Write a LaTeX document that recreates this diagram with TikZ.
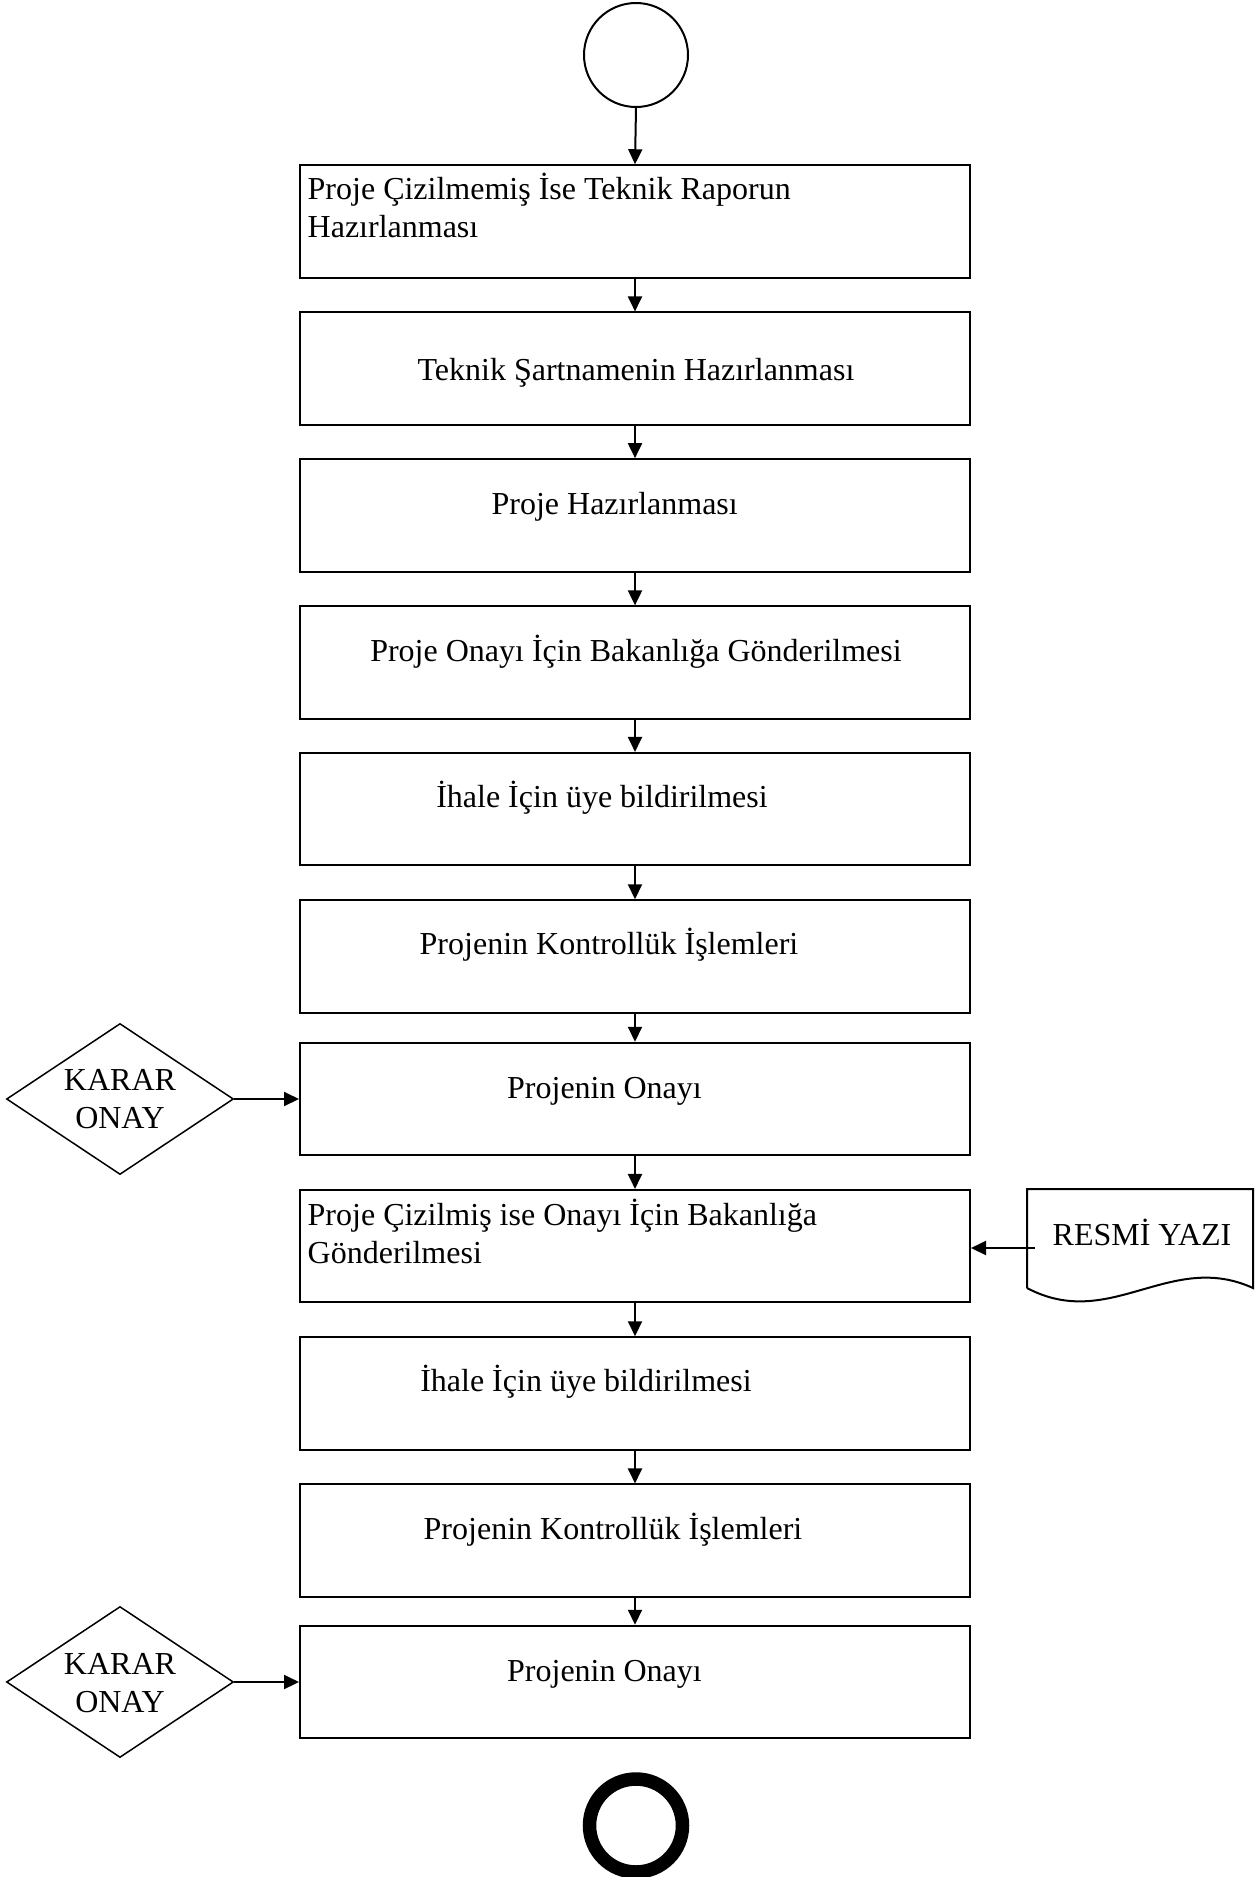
\documentclass[tikz,border=0pt]{standalone}
\usepackage{fontspec}
\setmainfont{Liberation Serif}
\usetikzlibrary{arrows.meta,shapes.geometric}
\begin{document}
\begin{tikzpicture}[x=1pt,y=-1pt,
  box/.style={draw,line width=2pt,minimum width=670pt,minimum height=112.5pt,inner sep=0pt},
  txt/.style={inner sep=0pt,font=\fontsize{32}{38}\selectfont},
  dec/.style={draw,shape=diamond,aspect=1.5,minimum width=227pt,minimum height=151pt,inner sep=0pt,line width=1.5pt},
  arr/.style={line width=2pt,-{Triangle[length=15pt,width=14pt]}}]
\useasboundingbox (0,0) rectangle (1257,1877);
% start / end
\node[draw,circle,line width=2pt,minimum size=104pt,inner sep=0pt] (start) at (636,55) {};
\node[draw,circle,line width=13.5pt,minimum size=93pt,inner sep=0pt] (end) at (636,1825.5) {};
% boxes
\node[box] (b1) at (635,221.5) {};
\node[box] (b2) at (635,368.7) {};
\node[box] (b3) at (635,515.4) {};
\node[box] (b4) at (635,662.6) {};
\node[box] (b5) at (635,809.2) {};
\node[box] (b6) at (635,956.5) {};
\node[box] (b7) at (635,1099) {};
\node[box] (b8) at (635,1246.2) {};
\node[box] (b9) at (635,1393.5) {};
\node[box] (b10) at (635,1540.7) {};
\node[box] (b11) at (635,1682) {};
% texts
\node[txt,anchor=base west] (t1a) at (307.5,199) {Proje Çizilmemiş İse Teknik Raporun};
\node[txt,anchor=base west] (t1b) at (307.5,237) {Hazırlanması};
\node[txt,anchor=base] (t2) at (636,380) {Teknik Şartnamenin Hazırlanması};
\node[txt,anchor=base] (t3) at (614.7,514) {Proje Hazırlanması};
\node[txt,anchor=base] (t4) at (636,661) {Proje Onayı İçin Bakanlığa Gönderilmesi};
\node[txt,anchor=base] (t5) at (602,807) {İhale İçin üye bildirilmesi};
\node[txt,anchor=base] (t6) at (609,954) {Projenin Kontrollük İşlemleri};
\node[txt,anchor=base] (t7) at (604.5,1098) {Projenin Onayı};
\node[txt,anchor=base west] (t8a) at (307.5,1225) {Proje Çizilmiş ise Onayı İçin Bakanlığa};
\node[txt,anchor=base west] (t8b) at (307.5,1263) {Gönderilmesi};
\node[txt,anchor=base] (t9) at (586,1391) {İhale İçin üye bildirilmesi};
\node[txt,anchor=base] (t10) at (613,1539) {Projenin Kontrollük İşlemleri};
\node[txt,anchor=base] (t11) at (604.5,1681) {Projenin Onayı};
% decisions
\node[dec] (d1) at (120,1099) {};
\node[txt,anchor=base] (d1a) at (120,1090.5) {KARAR};
\node[txt,anchor=base] (d1b) at (120,1128.5) {ONAY};
\node[dec] (d2) at (120,1682) {};
\node[txt,anchor=base] (d2a) at (120,1674.5) {KARAR};
\node[txt,anchor=base] (d2b) at (120,1712.5) {ONAY};
% document
\draw[line width=2pt] (1027,1288) -- (1027,1189) -- (1253,1189) -- (1253,1288)
  .. controls (1170,1250) and (1110,1332) .. (1027,1288);
\node[txt,anchor=base] (resmi) at (1142,1245.5) {RESMİ YAZI};
\coordinate (ry) at (1035,1248);
% connectors
\draw[arr] (start.south) -- (b1.north);
\draw[arr] (b1.south) -- (b2.north);
\draw[arr] (b2.south) -- (b3.north);
\draw[arr] (b3.south) -- (b4.north);
\draw[arr] (b4.south) -- (b5.north);
\draw[arr] (b5.south) -- (b6.north);
\draw[arr] (b6.south) -- (b7.north);
\draw[arr] (b7.south) -- (b8.north);
\draw[arr] (b8.south) -- (b9.north);
\draw[arr] (b9.south) -- (b10.north);
\draw[arr] (b10.south) -- (b11.north);
\draw[arr] (d1.east) -- (b7.west |- d1.east);
\draw[arr] (d2.east) -- (b11.west |- d2.east);
\draw[arr] (ry) -- (b8.east |- ry);
\end{tikzpicture}
\end{document}
